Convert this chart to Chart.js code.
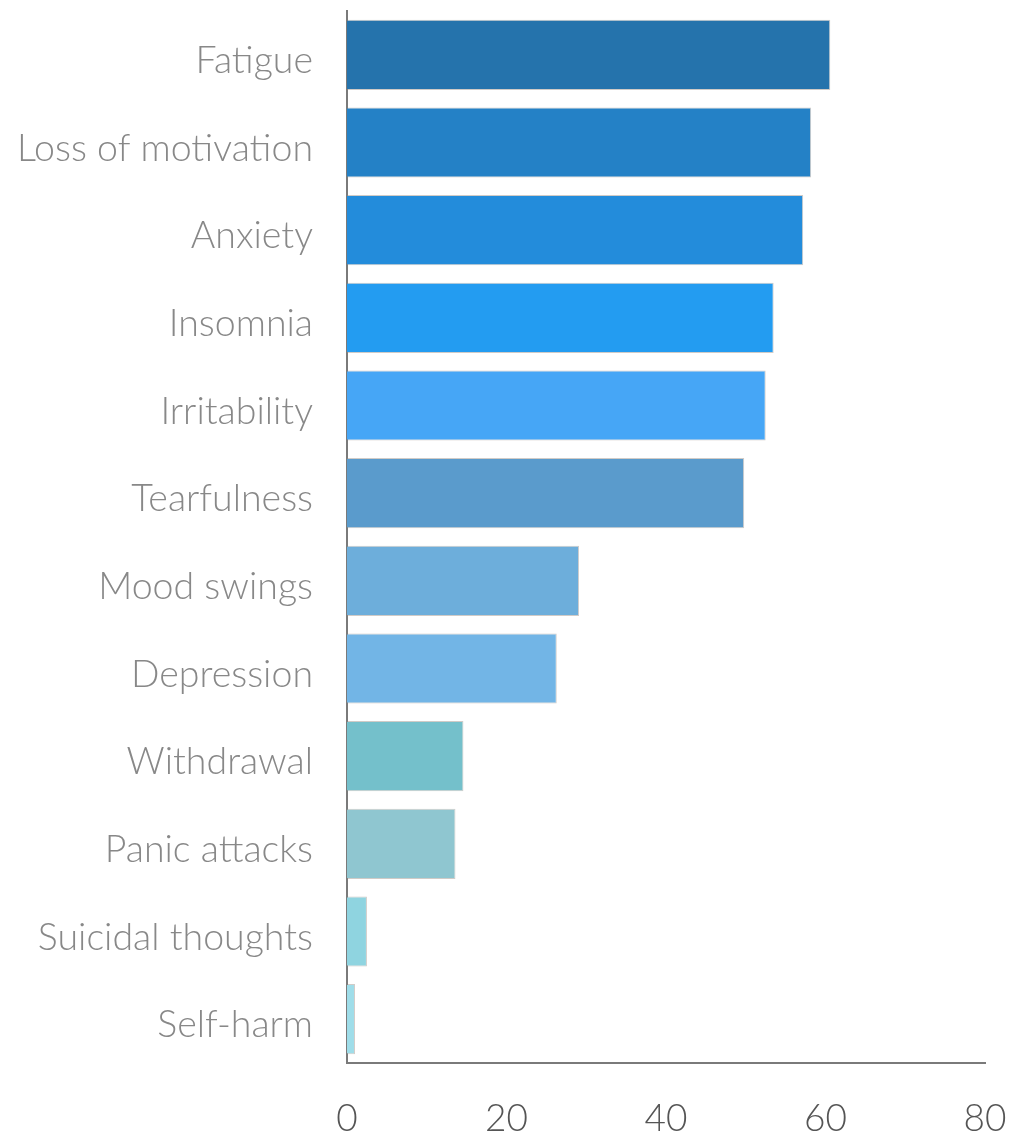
<!DOCTYPE html>
<html>
<head>
<meta charset="utf-8">
<script src="https://cdn.jsdelivr.net/npm/chart.js@4/dist/chart.umd.min.js"></script>
<style>
  html, body { margin: 0; padding: 0; background: #fff; }
  #wrap { width: 1031px; height: 1134px; position: relative; }
</style>
</head>
<body>
<div id="wrap"><canvas id="symptoms"></canvas></div>
<script>
var labels = ['Fatigue', 'Loss of motivation', 'Anxiety', 'Insomnia', 'Irritability', 'Tearfulness',
              'Mood swings', 'Depression', 'Withdrawal', 'Panic attacks', 'Suicidal thoughts', 'Self-harm'];
var values = [60.6, 58.2, 57.2, 53.5, 52.5, 49.8, 29.1, 26.3, 14.6, 13.6, 2.5, 1.0];
var colors = ['#2573ac', '#2481c6', '#238cdb', '#239cf1', '#46a6f6', '#5a9bcc',
              '#6daedb', '#72b5e6', '#74c0cb', '#8fc6d0', '#8fd4e0', '#9fdde9'];
var xTicks = [0, 20, 40, 60, 80];

var node = document.getElementById('symptoms');

var myChart = new Chart(node, {
    type: 'bar',
    data: {
        labels: labels,
        datasets: [{
            data: values,
            backgroundColor: colors,
            borderColor: 'rgba(150,140,130,0.45)',
            borderWidth: 1,
            categoryPercentage: 1,
            barPercentage: 0.8
        }]
    },
    options: {
        indexAxis: 'y',
        responsive: true,
        maintainAspectRatio: false,
        animation: false,
        layout: { padding: { top: 11, right: 46, left: 0, bottom: 0 } },
        plugins: {
            legend: { display: false },
            tooltip: { enabled: false }
        },
        scales: {
            x: {
                min: 0,
                max: 80,
                afterBuildTicks: function (scale) {
                    scale.ticks = xTicks.map(function (v) { return { value: v }; });
                },
                grid: { display: false, drawTicks: false },
                border: { display: true, color: '#7a7a7a', width: 2 },
                ticks: {
                    padding: 34,
                    color: '#555',
                    font: { family: 'Lato', size: 37, weight: 300 }
                },
                afterFit: function (scale) {
                    scale.height = 71;
                    scale.paddingLeft = 0;
                    scale.paddingRight = 0;
                }
            },
            y: {
                grid: { display: false, drawTicks: false },
                border: { display: true, color: '#7a7a7a', width: 2 },
                ticks: {
                    padding: 34,
                    labelOffset: 6,
                    color: '#888',
                    font: { family: 'Lato', size: 37.5, weight: 300 }
                },
                afterFit: function (scale) {
                    scale.width = 347;
                    scale.paddingTop = 0;
                    scale.paddingBottom = 0;
                }
            }
        }
    }
});
</script>
</body>
</html>
